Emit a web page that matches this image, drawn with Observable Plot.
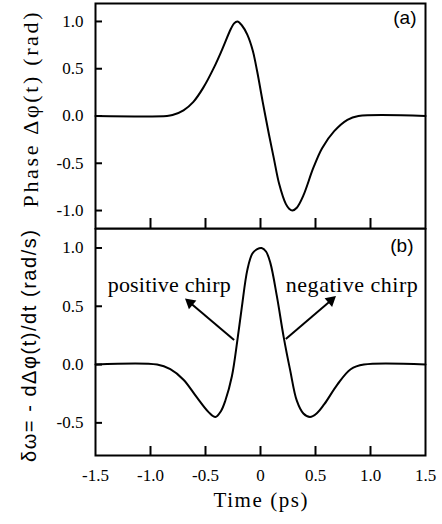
<!DOCTYPE html>
<html><head><meta charset="utf-8">
<script src="https://cdn.jsdelivr.net/npm/d3@7"></script>
<script src="https://cdn.jsdelivr.net/npm/@observablehq/plot@0.6"></script>
<style>
body{margin:0;background:#fff;}
#chart{position:relative;width:442px;height:524px;background:#fff;overflow:hidden;}
#chart svg{position:absolute;left:0;background:transparent;}
</style></head><body><div id="chart"></div>
<script>
// ---- data ----
const timeA = [-1.5, -0.85, -0.8, -0.7, -0.61, -0.52, -0.42, -0.35, -0.27, -0.24, -0.21, -0.17, -0.12, -0.07, -0.03, 0.02, 0.076, 0.12, 0.17, 0.23, 0.26, 0.29, 0.33, 0.39, 0.48, 0.56, 0.67, 0.79, 0.89, 1.5];
const phase = [0, 0, 0.01, 0.06, 0.15, 0.30, 0.52, 0.70, 0.92, 0.98, 1.0, 0.96, 0.86, 0.69, 0.47, 0.15, -0.19, -0.44, -0.72, -0.93, -0.98, -1.0, -0.97, -0.84, -0.55, -0.34, -0.16, -0.04, 0, 0];
const timeB = [-1.5, -0.94, -0.82, -0.70, -0.58, -0.47, -0.41, -0.36, -0.32, -0.26, -0.21, -0.17, -0.12, -0.075, -0.03, 0.01, 0.05, 0.09, 0.15, 0.21, 0.27, 0.33, 0.39, 0.45, 0.51, 0.58, 0.70, 0.82, 0.94, 1.5];
const chirp = [0, 0, -0.04, -0.13, -0.28, -0.41, -0.45, -0.40, -0.31, -0.10, 0.21, 0.49, 0.81, 0.95, 0.99, 1.0, 0.97, 0.87, 0.58, 0.24, -0.05, -0.31, -0.42, -0.45, -0.42, -0.34, -0.17, -0.04, 0, 0];
const xTicks = [-1, -0.5, 0, 0.5, 1];
const xTickLabels = [-1.5, -1, -0.5, 0, 0.5, 1, 1.5];
const yTicksA = [-1, -0.5, 0, 0.5, 1];
const yTicksB = [-0.5, 0, 0.5, 1];
const panelLabels = ["(a)", "(b)"];
const yTitles = ["Phase \u0394\u03c6(t) (rad)", "\u03b4\u03c9= - d\u0394\u03c6(t)/dt (rad/s)"];
const xTitle = "Time (ps)";
const chirpNotes = ["positive chirp", "negative chirp"];
const noteT = [-0.83, 0.83];
const noteV = [0.68, 0.68];
const arrowFromT = [-0.24, 0.23];
const arrowFromV = [0.21, 0.22];
const arrowToT = [-0.64, 0.64];
const arrowToV = [0.53, 0.55];

// ---- build ----
const serif = "'Liberation Serif','Times New Roman',serif";
const sans = "'Liberation Sans',Arial,sans-serif";
const W = 442, ML = 95, MR = 17, PW = W - ML - MR;
const fmtY = d => d.toFixed(1);
const fmtX = d => d === 0 ? "0" : d.toFixed(1);
const lineA = timeA.map((t, i) => ({t, v: phase[i]}));
const lineB = timeB.map((t, i) => ({t, v: chirp[i]}));
const notes = chirpNotes.map((s, i) => ({s, t: noteT[i], v: noteV[i]}));

const HA = 230, MTA = 3, MBA = 2, PHA = HA - MTA - MBA;
const HB = 296, MTB = 0, MBB = 69, PHB = HB - MTB - MBB;
const xDomB = [-1.5, 1.5], yDomB = [-0.78, 1.167];
const kx = PW / (xDomB[1] - xDomB[0]), ky = PHB / (yDomB[1] - yDomB[0]);
const arrows = arrowFromT.map((t, i) => {
  const sx = (arrowToT[i] - t) * kx, sy = -(arrowToV[i] - arrowFromV[i]) * ky;
  return {t1: t, v1: arrowFromV[i], t2: arrowToT[i], v2: arrowToV[i], ang: Math.atan2(sx, -sy) * 180 / Math.PI};
});

const plotA = Plot.plot({
  width: W, height: HA, marginTop: MTA, marginBottom: MBA, marginLeft: ML, marginRight: MR,
  style: {fontFamily: serif, fontSize: "17px", color: "#000", background: "transparent"},
  x: {domain: [-1.5, 1.5], axis: null},
  y: {domain: [-1.19, 1.19], label: null},
  marks: [
    Plot.axisY(yTicksA, {tickSize: 0, tickPadding: 12, tickFormat: fmtY, label: null, fontSize: 17}),
    Plot.tickY(yTicksA, {y: d => d, insetRight: PW - 7, strokeWidth: 2}),
    Plot.tickX(xTicks, {x: d => d, insetTop: PHA - 10, strokeWidth: 2}),
    Plot.line(lineA, {x: "t", y: "v", curve: "catmull-rom", strokeWidth: 2}),
    Plot.frame({strokeWidth: 2}),
    Plot.text([panelLabels[0]], {text: d => d, frameAnchor: "top-right", dx: -9, dy: 7, textAnchor: "end", lineAnchor: "top", fontFamily: sans, fontSize: 19}),
    Plot.text([yTitles[0]], {text: d => d, frameAnchor: "left", textAnchor: "middle", lineAnchor: "middle", rotate: -90, dx: -65, dy: -6, fontSize: 22})
  ]
});

const plotB = Plot.plot({
  width: W, height: HB, marginTop: MTB, marginBottom: MBB, marginLeft: ML, marginRight: MR,
  style: {fontFamily: serif, fontSize: "17px", color: "#000", background: "transparent"},
  x: {domain: xDomB, label: null},
  y: {domain: yDomB, label: null},
  marks: [
    Plot.axisY(yTicksB, {tickSize: 0, tickPadding: 12, tickFormat: fmtY, label: null, fontSize: 17}),
    Plot.axisX(xTickLabels, {tickSize: 0, tickPadding: 13, tickFormat: fmtX, label: null, fontSize: 17}),
    Plot.tickY(yTicksB, {y: d => d, insetRight: PW - 7, strokeWidth: 2}),
    Plot.tickX(xTicks, {x: d => d, insetTop: PHB - 9, strokeWidth: 2}),
    Plot.line(lineB, {x: "t", y: "v", curve: "catmull-rom", strokeWidth: 2}),
    Plot.link(arrows, {x1: "t1", y1: "v1", x2: "t2", y2: "v2", strokeWidth: 2}),
    Plot.dot(arrows, {x: "t2", y: "v2", symbol: "triangle2", r: 5.5, rotate: "ang", fill: "#000", stroke: "none"}),
    Plot.text(notes, {x: "t", y: "v", text: "s", fontSize: 22}),
    Plot.frame({strokeWidth: 2}),
    Plot.text([panelLabels[1]], {text: d => d, frameAnchor: "top-right", dx: -12, dy: 10, textAnchor: "end", lineAnchor: "top", fontFamily: sans, fontSize: 19}),
    Plot.text([yTitles[1]], {text: d => d, frameAnchor: "left", textAnchor: "middle", lineAnchor: "middle", rotate: -90, dx: -66, dy: 4, fontFamily: sans, fontSize: 20}),
    Plot.text([xTitle], {text: d => d, frameAnchor: "bottom", dy: 37, lineAnchor: "top", fontSize: 21})
  ]
});

const lengths = {};
lengths[yTitles[0]] = 195;
lengths[yTitles[1]] = 232;
lengths[xTitle] = 94;
lengths[chirpNotes[0]] = 123;
lengths[chirpNotes[1]] = 132;
for (const svg of [plotA, plotB]) {
  d3.select(svg).selectAll("text").each(function() {
    const L = lengths[this.textContent];
    if (L) { this.setAttribute("textLength", L); this.setAttribute("lengthAdjust", "spacing"); }
  });
}
const root = document.getElementById("chart");
plotA.style.top = "0px";
plotB.style.top = (MTA + PHA) + "px";
root.appendChild(plotA);
root.appendChild(plotB);
</script></body></html>
